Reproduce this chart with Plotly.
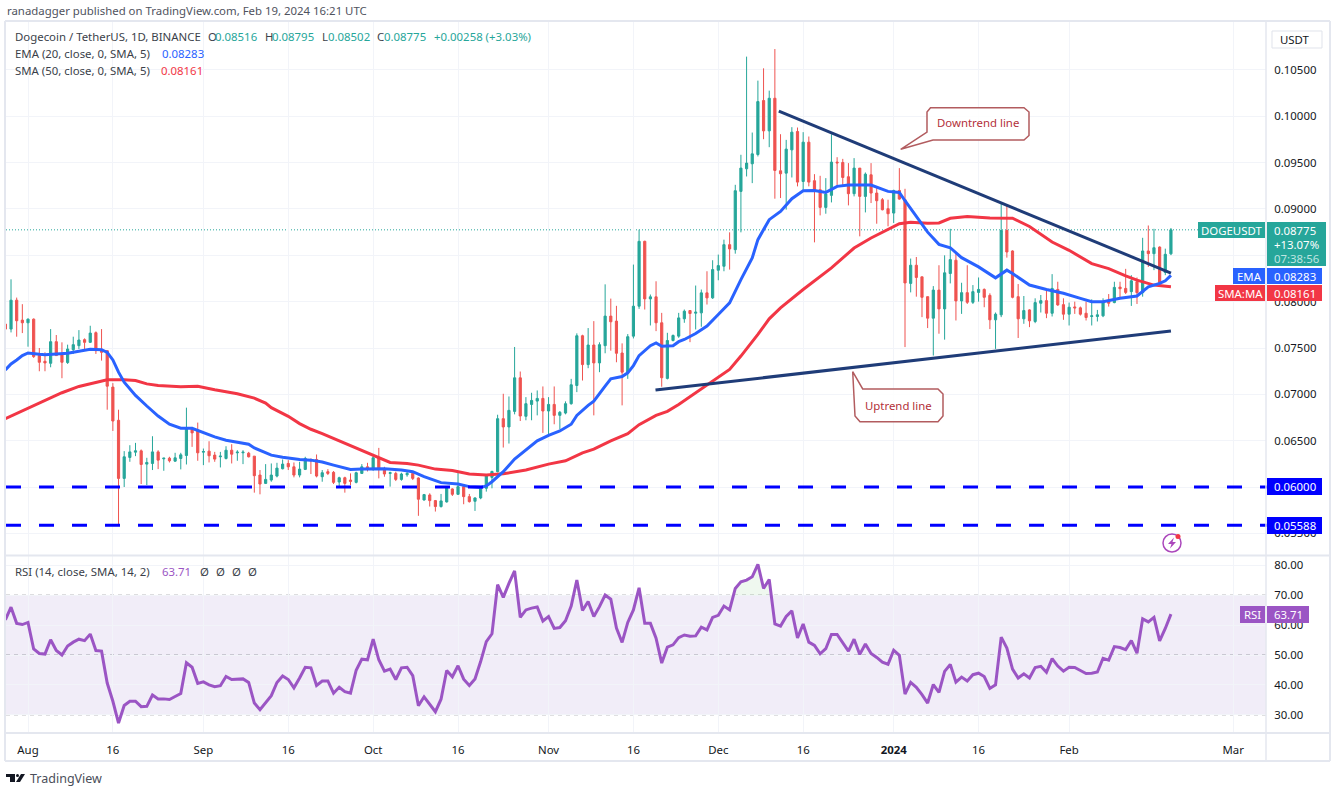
import pandas as pd
import plotly.graph_objects as go

W, H = 1337, 791
first_day = "2023-07-28"

opens = [
0.07758,0.07704,0.08016,0.07801,0.07772,0.07811,0.07418,0.07357,0.07335,0.07568,
0.07436,0.07343,0.07482,0.07525,0.07590,0.07561,0.07665,0.07486,0.07471,0.07078,
0.06720,0.06093,0.06319,0.06376,0.06390,0.06247,0.06254,0.06379,0.06304,0.06311,
0.06279,0.06308,0.06340,0.06630,0.06612,0.06376,0.06387,0.06344,0.06326,0.06308,
0.06397,0.06369,0.06369,0.06365,0.06333,0.06129,0.06039,0.06075,0.06118,0.06197,
0.06254,0.06218,0.06129,0.06190,0.06297,0.06297,0.06111,0.06165,0.06158,0.06054,
0.06100,0.06075,0.06050,0.06147,0.06218,0.06190,0.06319,0.06197,0.06147,0.06147,
0.06082,0.06132,0.06147,0.06097,0.05860,0.05914,0.05853,0.05789,0.05839,0.05979,
0.05921,0.06004,0.05896,0.05846,0.05882,0.05986,0.06104,0.06165,0.06737,0.06648,
0.06816,0.07178,0.06763,0.06891,0.06927,0.06956,0.06820,0.06891,0.06773,0.06798,
0.06899,0.07095,0.07632,0.07321,0.07532,0.07339,0.07525,0.07844,0.07790,0.07446,
0.07239,0.07628,0.07951,0.08651,0.08030,0.08052,0.07772,0.07172,0.07581,0.07628,
0.07815,0.07904,0.07876,0.07879,0.08095,0.08041,0.08339,0.08382,0.08615,0.08561,
0.09190,0.09434,0.09488,0.09588,0.10170,0.09843,0.10195,0.09412,0.09387,0.09638,
0.09836,0.09297,0.09721,0.09305,0.09208,0.09017,0.09147,0.09506,0.09502,0.09348,
0.09165,0.09441,0.09136,0.09369,0.09172,0.09100,0.09003,0.08956,0.09200,0.09100,
0.08197,0.08393,0.08268,0.08054,0.07822,0.08125,0.07922,0.08304,0.08447,0.08008,
0.08097,0.07993,0.08100,0.08132,0.08068,0.07804,0.07858,0.08768,0.08547,0.08054,
0.07815,0.07911,0.07786,0.07983,0.08011,0.07875,0.08132,0.07968,0.07865,0.07943,
0.07933,0.07875,0.07840,0.07840,0.07847,0.08011,0.07990,0.08157,0.08143,0.08108,
0.08215,0.08097,0.08547,0.08518,0.08589,0.08315,0.08516]
highs = [
0.07758,0.08241,0.08044,0.07973,0.07819,0.07819,0.07500,0.07453,0.07704,0.07640,
0.07561,0.07536,0.07622,0.07693,0.07604,0.07740,0.07679,0.07704,0.07471,0.07121,
0.06834,0.06387,0.06451,0.06476,0.06405,0.06315,0.06548,0.06397,0.06315,0.06326,
0.06369,0.06369,0.06856,0.06648,0.06695,0.06415,0.06494,0.06379,0.06379,0.06440,
0.06462,0.06397,0.06397,0.06379,0.06333,0.06183,0.06247,0.06254,0.06261,0.06297,
0.06290,0.06265,0.06272,0.06326,0.06308,0.06351,0.06183,0.06193,0.06172,0.06111,
0.06111,0.06147,0.06165,0.06247,0.06261,0.06351,0.06422,0.06218,0.06165,0.06165,
0.06154,0.06165,0.06154,0.06104,0.05925,0.05932,0.05860,0.05925,0.06004,0.05986,
0.06165,0.06011,0.05925,0.05889,0.06004,0.06136,0.06175,0.06780,0.07006,0.06977,
0.07511,0.07246,0.06970,0.07017,0.07042,0.07085,0.06970,0.07085,0.06820,0.06924,
0.07167,0.07658,0.07643,0.07715,0.07790,0.07561,0.08187,0.08033,0.07955,0.07550,
0.07650,0.08400,0.08777,0.08658,0.08077,0.08220,0.07879,0.07664,0.07646,0.07879,
0.07915,0.07908,0.08174,0.08131,0.08328,0.08447,0.08508,0.08669,0.08748,0.09261,
0.09585,0.10644,0.09825,0.10385,0.10518,0.10277,0.10726,0.09807,0.09746,0.09883,
0.09879,0.09829,0.09782,0.09376,0.09358,0.09333,0.09807,0.09559,0.09541,0.09495,
0.09549,0.09441,0.09394,0.09495,0.09244,0.09118,0.09100,0.09208,0.09441,0.09218,
0.08465,0.08482,0.08268,0.08054,0.08168,0.08393,0.08500,0.08786,0.08536,0.08204,
0.08393,0.08179,0.08261,0.08143,0.08090,0.07883,0.09054,0.09036,0.08554,0.08190,
0.08061,0.07918,0.08036,0.08072,0.08125,0.08297,0.08215,0.08036,0.07990,0.08000,
0.07947,0.08000,0.08025,0.07911,0.08036,0.08082,0.08215,0.08215,0.08354,0.08286,
0.08261,0.08689,0.08822,0.08786,0.08597,0.08572,0.08795]
lows = [
0.07704,0.07668,0.07622,0.07661,0.07514,0.07393,0.07249,0.07249,0.07292,0.07418,
0.07174,0.07328,0.07436,0.07489,0.07489,0.07554,0.07436,0.07364,0.06834,0.06605,
0.05588,0.06000,0.06272,0.06333,0.06032,0.06021,0.06183,0.06193,0.06175,0.06265,
0.06272,0.06190,0.06243,0.06433,0.06283,0.06236,0.06265,0.06272,0.06211,0.06297,
0.06254,0.06283,0.06247,0.06319,0.05939,0.05921,0.06032,0.06057,0.06104,0.06190,
0.06183,0.06104,0.06104,0.06183,0.06140,0.06104,0.06057,0.06129,0.06032,0.06004,
0.05939,0.06021,0.06039,0.06140,0.06168,0.06175,0.06093,0.06111,0.06004,0.06064,
0.06068,0.06111,0.06075,0.05689,0.05853,0.05789,0.05735,0.05778,0.05832,0.05903,
0.05914,0.05814,0.05832,0.05742,0.05868,0.05950,0.05986,0.06158,0.06426,0.06469,
0.06784,0.06712,0.06720,0.06720,0.06773,0.06584,0.06558,0.06677,0.06623,0.06784,
0.06888,0.07024,0.07149,0.07282,0.06773,0.07239,0.07443,0.07471,0.07346,0.06881,
0.07167,0.07603,0.07922,0.07915,0.07743,0.07682,0.07082,0.07161,0.07571,0.07610,
0.07772,0.07563,0.07700,0.07729,0.07969,0.08030,0.08231,0.08328,0.08346,0.08518,
0.08748,0.09351,0.09279,0.09567,0.09753,0.09667,0.09111,0.09118,0.08993,0.09340,
0.09244,0.09208,0.09244,0.08640,0.08931,0.08949,0.09071,0.09244,0.09244,0.09039,
0.09136,0.08705,0.08963,0.09064,0.08841,0.08985,0.08813,0.08849,0.09100,0.07510,
0.08100,0.08054,0.07833,0.07715,0.07418,0.07654,0.07590,0.08197,0.07797,0.07868,
0.07975,0.07975,0.08000,0.07940,0.07704,0.07490,0.07833,0.08475,0.08036,0.07608,
0.07761,0.07725,0.07768,0.07883,0.07822,0.07840,0.07954,0.07804,0.07743,0.07868,
0.07850,0.07797,0.07743,0.07786,0.07833,0.07947,0.07983,0.08036,0.08082,0.07954,
0.07975,0.08054,0.08375,0.08340,0.08172,0.08286,0.08502]
closes = [
0.07704,0.08016,0.07794,0.07772,0.07811,0.07407,0.07346,0.07339,0.07568,0.07418,
0.07346,0.07489,0.07536,0.07586,0.07561,0.07661,0.07471,0.07453,0.07088,0.06712,
0.06093,0.06326,0.06379,0.06390,0.06243,0.06265,0.06379,0.06290,0.06311,0.06283,
0.06315,0.06347,0.06641,0.06584,0.06369,0.06383,0.06337,0.06301,0.06333,0.06397,
0.06354,0.06376,0.06376,0.06326,0.06122,0.06032,0.06082,0.06129,0.06204,0.06247,
0.06218,0.06129,0.06193,0.06308,0.06283,0.06118,0.06154,0.06147,0.06050,0.06100,
0.06039,0.06061,0.06154,0.06218,0.06200,0.06315,0.06193,0.06140,0.06154,0.06082,
0.06140,0.06147,0.06093,0.05868,0.05918,0.05853,0.05789,0.05850,0.05996,0.05921,
0.06004,0.05896,0.05842,0.05882,0.05996,0.06125,0.06168,0.06737,0.06648,0.06827,
0.07178,0.06766,0.06899,0.06934,0.06956,0.06820,0.06891,0.06773,0.06806,0.06899,
0.07103,0.07632,0.07321,0.07532,0.07339,0.07536,0.07844,0.07783,0.07443,0.07239,
0.07622,0.07951,0.08651,0.08030,0.08052,0.07772,0.07179,0.07581,0.07635,0.07825,
0.07897,0.07872,0.07886,0.08095,0.08041,0.08346,0.08389,0.08615,0.08569,0.09197,
0.09441,0.09495,0.09595,0.10159,0.09843,0.10195,0.09416,0.09380,0.09646,0.09829,
0.09290,0.09721,0.09290,0.09208,0.09017,0.09161,0.09506,0.09498,0.09340,0.09165,
0.09441,0.09136,0.09376,0.09172,0.09089,0.08992,0.08949,0.09200,0.09107,0.08202,
0.08393,0.08261,0.08047,0.07822,0.08125,0.07922,0.08311,0.08454,0.08008,0.08097,
0.07993,0.08108,0.08132,0.08047,0.07804,0.07865,0.08768,0.08536,0.08047,0.07815,
0.07904,0.07793,0.07990,0.08011,0.07875,0.08143,0.07965,0.07865,0.07940,0.07933,
0.07865,0.07829,0.07847,0.07858,0.08000,0.07983,0.08154,0.08140,0.08100,0.08225,
0.08097,0.08547,0.08518,0.08582,0.08204,0.08511,0.08775]

ema_days = [-4,-3,-2,-1,0,1,2,3,4,6,7,8,10,11,13,14,15,16,17,19,21,23,25,27,29,31,33,35,37,39,40,42,43,45,48,50,52,54,57,
59,61,63,66,68,70,72,73,76,78,80,81,82,84,86,88,90,92,94,96,97,99,100,102,103,105,106,107,108,110,111,112,114,115,116,
118,120,122,124,126,128,129,131,133,135,137,139,141,143,145,149,152,154,155,158,159,161,163,165,168,171,173,174,177,180,183,186,188,190,193,196,198,200,201,202]
ema_values = [0.07264,0.07328,0.07371,0.07418,0.07446,0.07443,0.07432,0.07428,0.07432,0.07436,0.07443,0.07453,0.07479,0.07486,0.07482,0.07453,0.07371,0.07239,0.07131,0.06988,0.06874,0.06766,0.06677,0.06634,0.06634,0.06584,0.06541,0.06505,0.06483,0.06462,0.06422,0.06365,0.06344,0.06322,0.06297,0.06290,0.06269,0.06236,0.06190,
0.06193,0.06193,0.06197,0.06183,0.06165,0.06111,0.06064,0.06047,0.06032,0.06004,0.05996,0.06011,0.06057,0.06165,0.06301,0.06397,0.06498,0.06558,0.06605,0.06677,0.06773,0.06881,0.06927,0.07088,0.07167,0.07192,0.07232,0.07310,0.07418,0.07525,0.07554,0.07518,0.07525,0.07568,0.07592,
0.07657,0.07736,0.07861,0.07987,0.08238,0.08472,0.08669,0.08885,0.08974,0.09111,0.09197,0.09200,0.09179,0.09244,0.09258,0.09258,0.09190,0.09179,0.09089,0.08839,0.08750,0.08618,0.08582,0.08475,0.08375,0.08257,0.08340,0.08304,0.08179,0.08132,0.08090,0.08036,0.08000,0.08000,0.08036,0.08061,0.08161,0.08197,0.08225,0.08283]

sma_days = [-4,0,6,9,12,14,17,19,21,23,27,30,33,37,40,42,43,46,48,50,52,54,55,59,62,64,67,69,72,75,78,81,84,88,92,95,98,100,103,106,108,111,113,115,
124,126,129,131,133,137,142,146,149,152,154,156,159,161,163,166,170,174,177,181,184,188,191,194,196,199,202]
sma_values = [0.06737,0.06852,0.07017,0.07085,0.07131,0.07156,0.07156,0.07149,0.07113,0.07095,0.07081,0.07088,0.07049,0.07006,0.06959,0.06906,0.06856,0.06763,0.06684,0.06623,0.06576,0.06523,0.06505,0.06397,0.06319,0.06265,0.06254,0.06236,0.06193,0.06179,0.06140,0.06129,0.06143,0.06183,0.06247,0.06283,0.06369,0.06408,0.06498,0.06576,0.06673,0.06773,0.06816,0.06891,
0.07269,0.07413,0.07646,0.07815,0.07933,0.08131,0.08364,0.08579,0.08687,0.08777,0.08841,0.08857,0.08846,0.08850,0.08900,0.08918,0.08904,0.08900,0.08811,0.08643,0.08554,0.08411,0.08357,0.08279,0.08232,0.08179,0.08161]

rsi_values = [
61.8,66,60.6,60.2,60.9,52,50.5,50.3,55.1,51.5,50,53,54.3,55.3,54.8,57,51.5,51.3,40.6,34.5,
27.2,33.1,34.5,34.5,32.7,32.8,36.6,35.3,35.3,35.1,36.1,37.1,47.4,45.9,40.5,41,40,39.4,39.7,42.8,
41.8,41.8,42,40.8,33.9,31.7,33.9,36.4,40.8,43,41.8,39,42.3,45.9,45.7,39.8,41.3,41.3,37.2,39.2,
37.7,37.2,44.9,48.6,48.4,55.3,48.4,44.6,45.3,41.8,45.7,45.9,43.1,33,36,33.6,31,35.2,44.8,42.7,
46.4,41.9,39.8,42,47.8,54.5,57.1,73.6,69.3,74,78.2,62.6,65.1,65.7,66.1,61.4,62.9,58.9,59.2,61.5,
66.4,75.1,64.9,67.9,62.9,66.2,70.1,68.7,59,54.2,60.9,65.1,72.5,60.6,60.6,55.6,47.3,52.6,53.4,55.8,
56.7,56.3,56.4,59.3,58.4,62.6,63.3,66.4,65.1,72.3,74.5,75.1,76.2,80.4,72.3,75.3,60.4,59.7,62.9,64.8,
55.7,60.4,54.3,53.2,50.4,52.1,56.9,56.9,54.2,51.3,55.3,50.2,53.7,50.5,49.2,47.6,46.9,51.6,49.9,36.9,
40.8,39.2,36.7,33.9,40.1,37.5,44.5,46.8,40.9,42.6,41.3,43.4,43.9,42.8,38.8,40,56,52.3,45.3,42.3,
43.7,42.3,45.8,46.2,44.2,48.8,46.3,44.6,45.9,45.8,44.8,43.8,43.9,44.3,48.9,48.3,52.8,52.5,51.8,54.8,
50.6,62.1,61.1,62.6,54.7,58.9,63.71]

down_days, down_prices = [132.7, 202], [0.10056, 0.08309]
up_days, up_prices = [110.9, 202], [0.07046, 0.07683]
support_levels = [0.06000, 0.05588]
last_close = 0.08775
price_ticks = [0.105, 0.100, 0.095, 0.090, 0.085, 0.080, 0.075, 0.070, 0.065, 0.060, 0.055]
price_labels = ["0.10500", "0.10000", "0.09500", "0.09000", "", "0.08000", "0.07500", "0.07000", "0.06500", "", "0.05500"]
rsi_ticks = [80, 70, 60, 50, 40, 30]
time_ticks = ["2023-08-01","2023-08-16","2023-09-01","2023-09-16","2023-10-01","2023-10-16","2023-11-01",
              "2023-11-16","2023-12-01","2023-12-16","2024-01-01","2024-01-16","2024-02-01","2024-03-01"]
time_labels = ["Aug","16","Sep","16","Oct","16","Nov","16","Dec","16","<b>2024</b>","16","Feb","Mar"]

GREEN, RED, BLUE, SMA_RED, PURPLE = "#26a69a", "#ef5350", "#2962ff", "#f23645", "#9b55c4"
LEVEL_BLUE, TREND, GRID, FRAME, TEXT = "#0000ff", "#1f3c78", "#f2f4f9", "#e4e7ef", "#131722"
NOTE, NOTE_TEXT = "#b25c5f", "#b3303a"
FONT = "Noto Sans"
FS = 11.4

dates = pd.date_range(first_day, periods=len(closes), freq="D")
aug1 = pd.Timestamp("2023-08-01")
def day(d):
    return aug1 + pd.Timedelta(days=d)
def pick(days):
    return [day(d) for d in days]
def px(x): return x / W
def py(y): return 1 - y / H

PLOT_L, PLOT_R, TOP, SPLIT, BOTTOM = 6, 1266, 22, 556, 733
x_range = [day(-3.888), day(218.8)]

fig = go.Figure()
fig.add_trace(go.Candlestick(
    x=dates, open=opens, high=highs, low=lows, close=closes, xaxis="x2", yaxis="y",
    increasing=dict(line=dict(color=GREEN, width=1), fillcolor=GREEN),
    decreasing=dict(line=dict(color=RED, width=1), fillcolor=RED),
    whiskerwidth=0, showlegend=False, hoverinfo="skip"))
line_trace = lambda xs, ys, color, width, axx, axy: go.Scatter(
    x=xs, y=ys, mode="lines", line=dict(color=color, width=width),
    xaxis=axx, yaxis=axy, showlegend=False, hoverinfo="skip")
fig.add_trace(line_trace(pick(sma_days), sma_values, SMA_RED, 3, "x2", "y"))
fig.add_trace(line_trace(pick(ema_days), ema_values, BLUE, 3, "x2", "y"))
fig.add_trace(line_trace(pick(down_days), down_prices, TREND, 3, "x2", "y"))
fig.add_trace(line_trace(pick(up_days), up_prices, TREND, 3, "x2", "y"))

over = [(d, v) for d, v in zip(dates, rsi_values) if v > 69.3 and pd.Timestamp("2023-11-20") < d < pd.Timestamp("2023-12-12")]
over_x = [o[0] for o in over]
fig.add_trace(go.Scatter(x=over_x, y=[70] * len(over_x), mode="lines", line=dict(width=0),
                         xaxis="x", yaxis="y2", showlegend=False, hoverinfo="skip"))
fig.add_trace(go.Scatter(x=over_x, y=[max(o[1], 70) for o in over], mode="lines", line=dict(width=0),
                         fill="tonexty", fillcolor="rgba(76,175,80,0.09)",
                         xaxis="x", yaxis="y2", showlegend=False, hoverinfo="skip"))
fig.add_trace(line_trace(dates, rsi_values, PURPLE, 3, "x", "y2"))

shapes = []
def rect(x0, y0, x1, y1, color):
    shapes.append(dict(type="rect", xref="paper", yref="paper", x0=px(x0), x1=px(x1), y0=py(y0), y1=py(y1),
                       fillcolor=color, line=dict(width=0), layer="above"))
def frame_line(x0, y0, x1, y1, width=2, color=FRAME):
    shapes.append(dict(type="line", xref="paper", yref="paper", x0=px(x0), x1=px(x1), y0=py(y0), y1=py(y1),
                       line=dict(color=color, width=width), layer="above"))
def poly(points, fill=None, stroke=None, width=1.5):
    d = "M" + " L".join(f"{px(a):.5f},{py(b):.5f}" for a, b in points) + " Z"
    shapes.append(dict(type="path", xref="paper", yref="paper", path=d, fillcolor=fill or "rgba(0,0,0,0)",
                       line=dict(color=stroke or "rgba(0,0,0,0)", width=width if stroke else 0), layer="above"))

# RSI band and its guide lines
shapes.append(dict(type="rect", xref="paper", yref="y2", x0=px(PLOT_L), x1=px(PLOT_R), y0=30, y1=70,
                   fillcolor="rgba(126,87,194,0.11)", line=dict(width=0), layer="below"))
for lvl, col in [(70, "#55585f"), (50, "#a0a3ac"), (30, "#55585f")]:
    shapes.append(dict(type="line", xref="paper", yref="y2", x0=px(PLOT_L), x1=px(PLOT_R), y0=lvl, y1=lvl,
                       line=dict(color=col, width=1, dash="4px,4px"), layer="below"))
# last price dotted line
shapes.append(dict(type="line", xref="paper", yref="y", x0=px(PLOT_L), x1=px(1198), y0=last_close, y1=last_close,
                   line=dict(color=GREEN, width=1, dash="1px,2px"), layer="below"))
# support levels
for lvl in support_levels:
    shapes.append(dict(type="line", xref="paper", yref="y", x0=px(PLOT_L), x1=px(PLOT_R + 2), y0=lvl, y1=lvl,
                       line=dict(color=LEVEL_BLUE, width=3, dash="15px,18px"), layer="above"))

# frame
frame_line(5, TOP - 1, 1330, TOP - 1)
frame_line(5, 761, 1330, 761)
frame_line(5, TOP - 1, 5, 761)
frame_line(1330, TOP - 1, 1330, 761)
frame_line(PLOT_L, 555.5, 1329, 555.5)
frame_line(PLOT_L, BOTTOM, 1329, BOTTOM)
frame_line(PLOT_R, TOP, PLOT_R, 761, width=1.5)

# callouts
poly([(930.5,107.7),(1024,107.7),(1029,112),(1029,135.5),(1024,140),(933,140),(900.7,149.3),(927,132),(927,112)],
     fill="rgba(255,255,255,0.85)", stroke=NOTE)
poly([(852.7,371.7),(862.7,389),(938,389),(943,394),(943,416),(938,421.7),(860,421.7),(855,416)],
     fill="rgba(255,255,255,0.85)", stroke=NOTE)

# axis badges
rect(1198, 222, 1265, 238, GREEN)
rect(1267, 222, 1326, 266, GREEN)
rect(1233, 268, 1265, 284, BLUE)
rect(1267, 268, 1322, 284, BLUE)
rect(1215, 285, 1265, 301, SMA_RED)
rect(1267, 285, 1322, 301, SMA_RED)
rect(1267, 478, 1322, 495, LEVEL_BLUE)
rect(1267, 517, 1322, 534, LEVEL_BLUE)
rect(1240, 606, 1265, 623, PURPLE)
rect(1267, 606, 1309, 623, PURPLE)

# publish-symbol button
shapes.append(dict(type="circle", xref="paper", yref="paper", x0=px(1163), x1=px(1181), y0=py(552), y1=py(534),
                   line=dict(color="#ab47bc", width=1.5), fillcolor="white", layer="above"))
poly([(1174,537.5),(1168,544),(1171.5,544),(1170,548.5),(1176,542),(1172.5,542)], fill="#ab47bc")
shapes.append(dict(type="circle", xref="paper", yref="paper", x0=px(1175.5), x1=px(1180.5), y0=py(539), y1=py(534),
                   line=dict(width=0), fillcolor="#f23645", layer="above"))

# TradingView mark
poly([(6,774),(15,774),(15,782),(10,782),(10,777),(6,777)], fill="#131722")
shapes.append(dict(type="circle", xref="paper", yref="paper", x0=px(16), x1=px(19), y0=py(777), y1=py(774),
                   line=dict(width=0), fillcolor="#131722", layer="above"))
poly([(25,774),(21,774),(16,782),(20,782)], fill="#131722")

ann = []
def label(x, y, text, color=TEXT, size=FS, anchor="left"):
    ann.append(dict(xref="paper", yref="paper", x=px(x), y=py(y), text=text, showarrow=False, xanchor=anchor,
                    yanchor="middle", borderpad=0, font=dict(family=FONT, size=size, color=color)))

label(6, 10, "ranadagger published on TradingView.com, Feb 19, 2024 16:21 UTC", "#50535e")
label(14, 36.5, "Dogecoin / TetherUS, 1D, BINANCE", "#3b3f4a")
for x, t, c in [(207,"O","#3b3f4a"),(214,"0.08516",GREEN),(264,"H","#3b3f4a"),(271,"0.08795",GREEN),
                (321,"L","#3b3f4a"),(327,"0.08502",GREEN),(376,"C","#3b3f4a"),(383,"0.08775",GREEN),
                (433,"+0.00258 (+3.03%)",GREEN)]:
    label(x, 36.5, t, c)
label(14, 53.5, "EMA (20, close, 0, SMA, 5)", "#3b3f4a")
label(161, 53.5, "0.08283", BLUE)
label(14, 70.5, "SMA (50, close, 0, SMA, 5)", "#3b3f4a")
label(160, 70.5, "0.08161", SMA_RED)
label(14, 571.5, "RSI (14, close, SMA, 14, 2)", "#3b3f4a")
label(161, 571.5, "63.71", PURPLE)
for x in (199, 215, 231, 247):
    label(x, 571.5, "Ø", "#3b3f4a")
label(978, 123, "Downtrend line", NOTE_TEXT, anchor="center")
label(898, 405, "Uptrend line", NOTE_TEXT, anchor="center")
label(1231.5, 230, "DOGEUSDT", "white", anchor="center")
label(1273, 230, "0.08775", "white")
label(1273, 244, "+13.07%", "white")
label(1273, 258, "07:38:56", "#bfe5e1")
label(1249, 276, "EMA", "white", anchor="center")
label(1273, 276, "0.08283", "white")
label(1240, 293, "SMA:MA", "white", anchor="center")
label(1273, 293, "0.08161", "white")
label(1273, 486.5, "0.06000", "white")
label(1273, 525.5, "0.05588", "white")
label(1252.5, 614.5, "RSI", "white", anchor="center")
label(1273, 614.5, "63.71", "white")
label(1279, 39, "USDT", TEXT)
poly([(1272,31),(1322,31),(1322,48),(1272,48)], stroke="#e0e3eb", width=1)
label(29, 778, "TradingView", "#4a4e59", size=12.5)

axis_common = dict(showline=False, zeroline=False, gridcolor=GRID, gridwidth=1, tickfont=dict(family=FONT, size=FS, color=TEXT))
fig.update_layout(
    width=W, height=H, autosize=False, margin=dict(l=0, r=0, t=0, b=0), boxgap=0.45,
    paper_bgcolor="white", plot_bgcolor="white", showlegend=False, shapes=shapes, annotations=ann,
    xaxis=dict(domain=[px(PLOT_L), px(PLOT_R)], range=x_range, type="date", anchor="y2",
               tickmode="array", tickvals=time_ticks, ticktext=time_labels, ticks="outside", ticklen=6,
               tickcolor="rgba(0,0,0,0)", **axis_common),
    xaxis2=dict(domain=[px(PLOT_L), px(PLOT_R)], range=x_range, type="date", anchor="y", matches="x",
                tickmode="array", tickvals=time_ticks, showticklabels=False, rangeslider=dict(visible=False),
                **axis_common),
    yaxis=dict(domain=[py(SPLIT), py(TOP)], range=[0.06 + (487 - SPLIT) / 9267, 0.06 + (487 - TOP) / 9267],
               anchor="x2", side="right", tickmode="array", tickvals=price_ticks,
               ticktext=price_labels, ticks="outside", ticklen=5,
               tickcolor="rgba(0,0,0,0)", **axis_common),
    yaxis2=dict(domain=[py(BOTTOM), py(SPLIT)], range=[30 - (BOTTOM - 714.7) / 2.985, 30 + (714.7 - SPLIT) / 2.985],
                anchor="x", side="right", tickmode="array", tickvals=rsi_ticks,
                ticktext=[f"{t:.2f}" for t in rsi_ticks], ticks="outside", ticklen=5,
                tickcolor="rgba(0,0,0,0)", **axis_common),
)
fig.write_html("out.html", post_script="document.body.style.margin='0';document.body.style.overflow='hidden';",
               config=dict(displayModeBar=False))
